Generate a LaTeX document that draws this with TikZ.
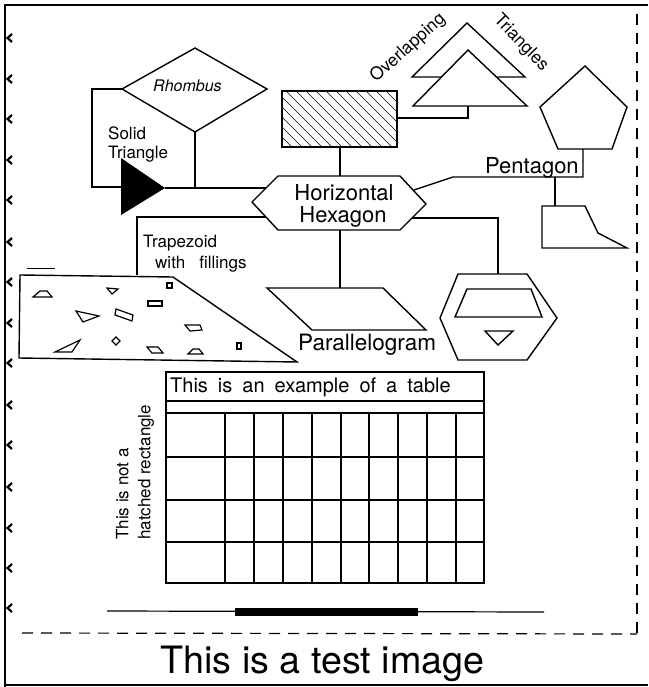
\documentclass[tikz,border=0pt]{standalone}
\usepackage{fontspec}
\setmainfont{TeX Gyre Heros}
\begin{document}
\begin{tikzpicture}[x=1pt,y=-1pt, line join=miter,
  poly/.style={draw=black, line width=1.4pt},
  conn/.style={draw=black, line width=1.3pt},
  fill1/.style={draw=black, line width=1.2pt},
  lblM/.style={inner sep=0, font=\fontsize{22}{24}\selectfont},
  lblS/.style={inner sep=0, font=\fontsize{17}{19}\selectfont},
  tick/.style={draw=black, line width=2.2pt},
  frameline/.style={draw=black, line width=2.2pt},
  dashline/.style={draw=black, line width=1.2pt, dash pattern=on 11pt off 8pt}]
\useasboundingbox (0,0) rectangle (648,687);
% outer frame
\draw[frameline] (5,687) -- (5,5) -- (648,5);
\draw[frameline] (5,685) -- (648,685);
\foreach \y in {38,79,119,160,200,242,282,323,363,405,445,487,528,568,608}
  \draw[tick] (12,\y-4) -- (7.5,\y) -- (12,\y+4);
\draw[dashline] (637,14) -- (637,636);
\draw[dashline] (22,633) -- (637,634);
\draw[line width=1pt] (27,268) -- (55,268);

% key coordinates
\coordinate (rhT) at (195,48);
\coordinate (rhL) at (122,89);
\coordinate (rhR) at (267,89);
\coordinate (rhB) at (195,132);
\coordinate (triTip) at (165,188);
\coordinate (hxTL) at (278,176);
\coordinate (hxTR) at (400,176);
\coordinate (hxR) at (426,204);
\coordinate (hxBR) at (400,230);
\coordinate (hxBL) at (278,230);
\coordinate (hxL) at (252,202);
\coordinate (hxTop) at (340,176);
\coordinate (hxBot) at (340,230);
\coordinate (hxUL) at (266,188);
\coordinate (hxLL) at (266,217);
\coordinate (hxUR) at (414,190);
\coordinate (hxLR) at (412,218);
\coordinate (hrBot) at (340,147);
\coordinate (hrR) at (397,118);
\coordinate (trBase) at (468,106);
\coordinate (pgTop) at (340,288);
\coordinate (tzTop) at (137,275);
\coordinate (h2Top) at (498,274);
\coordinate (ptBot) at (583,149);
\coordinate (qdTop) at (555,206);

% connectors
\draw[conn] (rhL) -- (92,89) -- (92,187) -- (121,187);
\draw[conn] (triTip) -- (hxUL);
\draw[conn] (rhB) -- (195,188);
\draw[conn] (hrBot) -- (hxTop);
\draw[conn] (hrR) -- (468,118) -- (trBase);
\draw[conn] (hxUR) -- (453,177) -- (583,177) -- (ptBot);
\draw[conn] (555,177) -- (qdTop);
\draw[conn] (hxLR) -- (498,218) -- (h2Top);
\draw[conn] (hxBot) -- (pgTop);
\draw[conn] (hxLL) -- (137,217) -- (tzTop);

% rhombus
\draw[poly] (rhT) -- (rhR) -- (rhB) -- (rhL) -- cycle;
\node[inner sep=0, anchor=base west, font=\fontsize{16}{18}\selectfont\itshape] (rhlab) at (153,92) {Rhombus};

% solid triangle
\node[lblS, anchor=base west] (sol1) at (108,140) {Solid};
\node[lblS, anchor=base west] (sol2) at (108,159) {Triangle};
\fill[black] (121,158) -- (121,215) -- (triTip) -- cycle;

% hexagon
\draw[poly, fill=white] (hxL) -- (hxTL) -- (hxTR) -- (hxR) -- (hxBR) -- (hxBL) -- cycle;
\node[lblM, anchor=base] (hx1) at (344,200) {Horizontal};
\node[lblM, anchor=base] (hx2) at (343,222) {Hexagon};

% hatched rectangle
\begin{scope}
\clip (282,91) rectangle (397,147);
\foreach \k in {-66,-56,...,120} \draw[line width=0.6pt] (282+\k,91) -- (338+\k,147);
\end{scope}
\draw[poly] (282,91) rectangle (397,147);

% overlapping triangles
\draw[poly] (467,23) -- (525,77) -- (412,77) -- cycle;
\draw[poly, fill=white] (468,50) -- (527,106) -- (413,106) -- cycle;
\node[lblS, rotate=42, font=\fontsize{17.5}{19}\selectfont] (ovl) at (408,48) {Overlapping};
\node[lblS, rotate=-46, font=\fontsize{17.5}{19}\selectfont] (trl) at (521,43) {Triangles};

% pentagon
\draw[poly] (585,66) -- (627,107) -- (612,149) -- (558,149) -- (540,107) -- cycle;
\node[lblM, anchor=base west] (ptlab) at (485,173) {Pentagon};

% quadrilateral
\draw[poly] (542,206) -- (585,206) -- (598,233) -- (627,248) -- (542,248) -- cycle;

% second hexagon
\draw[poly] (458,274) -- (527,274) -- (557,318) -- (527,360) -- (458,360) -- (440,318) -- cycle;
\draw[poly] (467,289) -- (531,289) -- (542,317) -- (455,317) -- cycle;
\draw[poly] (485,331) -- (513,331) -- (498,345) -- cycle;

% parallelogram
\draw[poly] (267,288) -- (383,288) -- (426,330) -- (312,330) -- cycle;
\node[lblM, anchor=base west, font=\fontsize{22.5}{24}\selectfont] (pglab) at (298,350) {Parallelogram};

% trapezoid
\node[lblS, anchor=base west] (tz1) at (143,247) {Trapezoid};
\node[lblS, anchor=base west] (tz2) at (155,268) {{\spaceskip=14pt\relax with fillings}};
\draw[poly] (20,275) -- (173,277) -- (297,362) -- (19,358) -- cycle;
\draw[fill1] (33,297) -- (40,291) -- (47,291) -- (52,297) -- cycle;
\draw[fill1] (107,288) -- (118,289) -- (112,294) -- cycle;
\draw[fill1] (167,283) rectangle (172,288);
\draw[fill1] (148,301) rectangle (162,306);
\draw[fill1] (76,311) -- (99,316) -- (83,322) -- cycle;
\draw[fill1] (116,309) -- (133,315) -- (132,321) -- (115,315) -- cycle;
\draw[fill1] (185,325) -- (200,325) -- (202,330) -- (190,331) -- cycle;
\draw[fill1] (55,352) -- (80,340) -- (72,352) -- cycle;
\draw[fill1] (116,337) -- (120,341) -- (116,345) -- (112,341) -- cycle;
\draw[fill1] (147,347) -- (158,347) -- (163,353) -- (152,353) -- cycle;
\draw[fill1] (188,354) -- (193,349) -- (199,349) -- (203,354) -- cycle;
\draw[fill1] (237,343) rectangle (241,349);

% table
\draw[poly] (166,372) rectangle (484,583);
\draw[conn] (166,401) -- (484,401);
\draw[conn] (166,413) -- (484,413);
\foreach \yy in {457,500,542} \draw[conn] (166,\yy) -- (484,\yy);
\foreach \xx in {225,254,283,312,341,369,398,427,456} \draw[conn] (\xx,413) -- (\xx,583);
\node[inner sep=0, anchor=base west, font=\fontsize{20}{22}\selectfont] (tbl) at (170,392) {{\spaceskip=10pt\relax This is an example of a table}};
\node[lblS, rotate=90, anchor=west, align=left, font=\fontsize{17}{22}\selectfont] (notlab) at (135,540) {This is not a\\hatched rectangle};

% bottom lines
\draw[line width=1.2pt] (107,611) -- (544,612);
\draw[line width=8pt] (235,611.5) -- (418,611.5);

\node[inner sep=0, anchor=base, font=\fontsize{37.7}{40}\selectfont] (title) at (322.5,673) {This is a test image};
\end{tikzpicture}
\end{document}
